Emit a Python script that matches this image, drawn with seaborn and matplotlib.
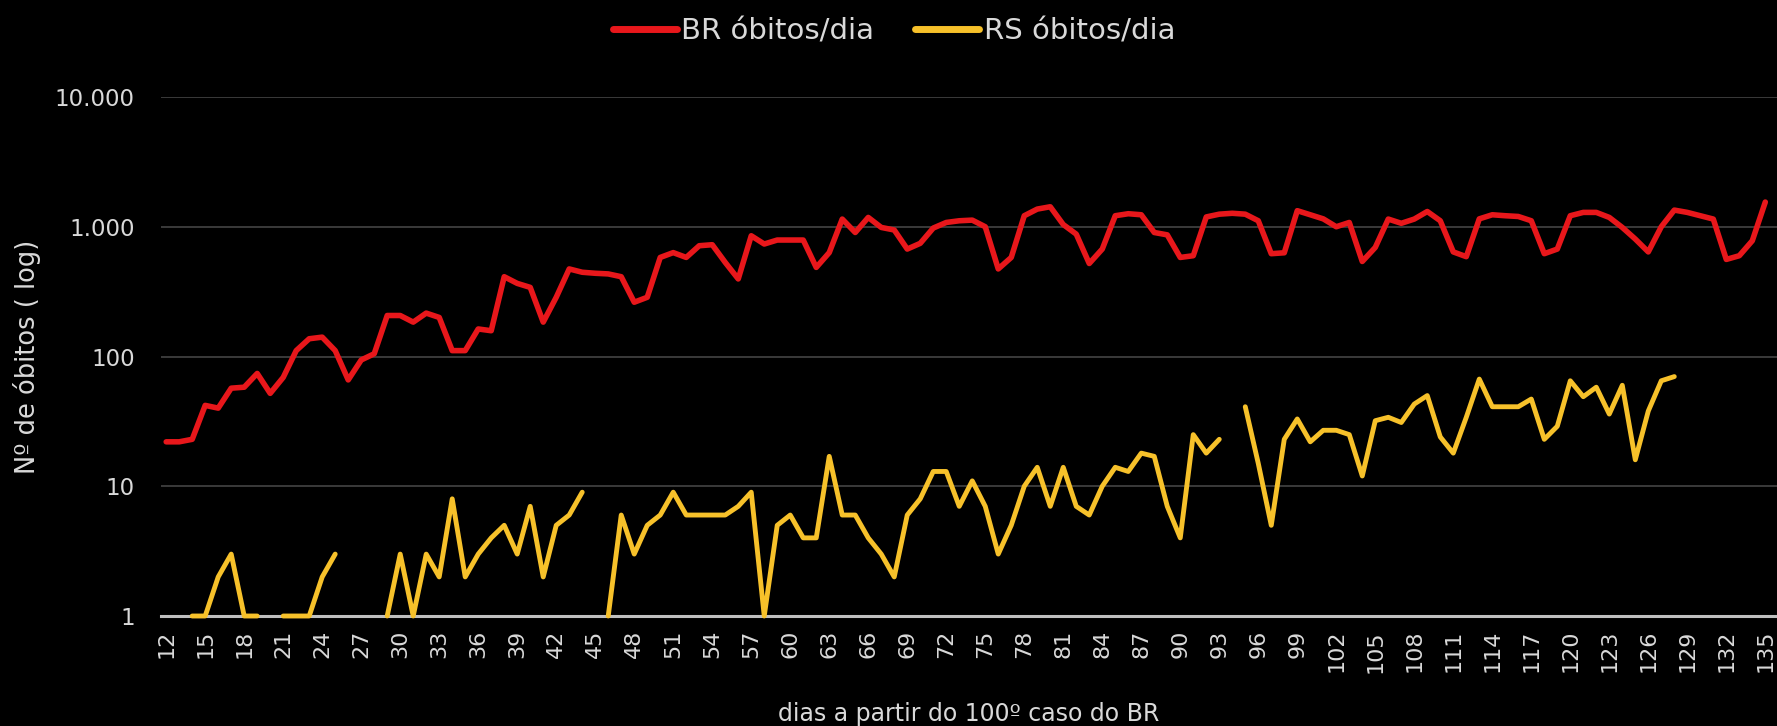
import numpy as np
import pandas as pd
import matplotlib
matplotlib.use("Agg")
import matplotlib.pyplot as plt
import seaborn as sns
from matplotlib.lines import Line2D
from matplotlib.ticker import NullLocator

nan = np.nan

# Days counted from Brazil's 100th confirmed case
days = list(range(12, 136))

# Daily deaths, Brazil
br_obitos = [
    22, 22, 23, 42, 40, 57, 58, 74, 52, 69,              # 12-21
    111, 137, 141, 111, 66, 94, 105, 207, 207, 184,      # 22-31
    216, 200, 111, 111, 163, 158, 412, 366, 341, 184,    # 32-41
    286, 473, 446, 438, 433, 412, 262, 286, 580, 632,    # 42-51
    580, 714, 727, 531, 396, 852, 736, 790, 790, 790,    # 52-61
    486, 632, 1146, 903, 1180, 988, 944, 673, 745, 977,  # 62-71
    1079, 1112, 1125, 1000, 473, 580, 1216, 1368, 1426, 1040,  # 72-81
    877, 521, 673, 1216, 1260, 1237, 903, 866, 580, 598,       # 82-91
    1190, 1250, 1270, 1250, 1112, 620, 630, 1330, 1237, 1150,  # 92-101
    1000, 1079, 540, 693, 1146, 1063, 1146, 1311, 1112, 640,   # 102-111
    588, 1150, 1237, 1216, 1200, 1112, 620, 673, 1216, 1290,   # 112-121
    1290, 1180, 988, 804, 640, 1000, 1344, 1290, 1216, 1146,   # 122-131
    560, 598, 780, 1550,                                       # 132-135
]

# Daily deaths, Rio Grande do Sul (days without deaths left blank)
rs_obitos = [
    nan, nan, 1, 1, 2, 3, 1, 1, nan, 1,                  # 12-21
    1, 1, 2, 3, nan, nan, nan, 1, 3, 1,                  # 22-31
    3, 2, 8, 2, 3, 4, 5, 3, 7, 2,                        # 32-41
    5, 6, 9, nan, 1, 6, 3, 5, 6, 9,                      # 42-51
    6, 6, 6, 6, 7, 9, 1, 5, 6, 4,                        # 52-61
    4, 17, 6, 6, 4, 3, 2, 6, 8, 13,                      # 62-71
    13, 7, 11, 7, 3, 5, 10, 14, 7, 14,                   # 72-81
    7, 6, 10, 14, 13, 18, 17, 7, 4, 25,                  # 82-91
    18, 23, nan, 41, 15, 5, 23, 33, 22, 27,              # 92-101
    27, 25, 12, 32, 34, 31, 43, 50, 24, 18,              # 102-111
    34, 67, 41, 41, 41, 47, 23, 29, 65, 49,              # 112-121
    58, 36, 60, 16, 38, 65, 70, nan, nan, nan,           # 122-131
    nan, nan, nan, nan,                                  # 132-135
]

series_labels = ["BR óbitos/dia", "RS óbitos/dia"]
y_ticks = [1, 10, 100, 1000, 10000]
y_tick_labels = ["1", "10", "100", "1.000", "10.000"]
x_ticks = list(range(12, 136, 3))

RED = "#E8171B"
GOLD = "#F7C12A"
TEXT = "#D9D9D9"
GRID = "#3A3A3A"

sns.set_style("dark", rc={
    "figure.facecolor": "black",
    "axes.facecolor": "black",
    "axes.edgecolor": "#BFBFBF",
    "grid.color": GRID,
})
plt.rcParams["font.family"] = ["DejaVu Sans"]

W, H = 1777, 726
fig = plt.figure(figsize=(W / 100, H / 100), dpi=100, facecolor="black")
ax = fig.add_axes([161 / W, 110 / H, (W - 161) / W, 519 / H])

br_df = pd.DataFrame({"dia": days, "obitos": br_obitos})
rs_df = pd.DataFrame({"dia": days, "obitos": rs_obitos})
# break the RS line at the blank days
rs_df["trecho"] = rs_df["obitos"].isna().cumsum()
rs_df = rs_df.dropna()

sns.lineplot(data=br_df, x="dia", y="obitos", color=RED, linewidth=4.0,
             solid_joinstyle="round", solid_capstyle="round", ax=ax, clip_on=False)
sns.lineplot(data=rs_df, x="dia", y="obitos", units="trecho", estimator=None,
             color=GOLD, linewidth=3.5, solid_joinstyle="round",
             solid_capstyle="round", ax=ax, clip_on=False)

ax.set_yscale("log")
ax.set_ylim(1, 10000)
ax.set_xlim(11.6, 135.9)
ax.set_yticks(y_ticks, y_tick_labels)
ax.yaxis.set_minor_locator(NullLocator())
ax.set_xticks(x_ticks, [str(d) for d in x_ticks], rotation=90)
ax.set_xlabel("")
ax.set_ylabel("")

ax.grid(axis="y", color=GRID, linewidth=1.4)
ax.grid(axis="x", visible=False)
for side in ("left", "right", "top"):
    ax.spines[side].set_visible(False)
ax.spines["bottom"].set_color("#BFBFBF")
ax.spines["bottom"].set_linewidth(2.2)
ax.spines["bottom"].set_zorder(1)

ax.tick_params(axis="y", length=0, labelsize=16.5, labelcolor=TEXT, pad=19)
ax.tick_params(axis="x", length=0, labelsize=16, labelcolor=TEXT, pad=10)

handles = [Line2D([0], [0], color=RED, linewidth=5),
           Line2D([0], [0], color=GOLD, linewidth=5)]
fig.legend(handles=handles, labels=series_labels, loc="center",
           bbox_to_anchor=(0.503, 0.957), ncol=2, frameon=False, fontsize=21,
           handlelength=2.2, handletextpad=0.15, columnspacing=1.4,
           labelcolor=TEXT)

fig.text(969 / W, 12 / H, "dias a partir do 100º caso do BR", ha="center",
         va="center", fontsize=17, color=TEXT)
fig.text(27 / W, 1 - 357 / H, "Nº de óbitos ( log)", ha="center", va="center",
         rotation=90, fontsize=18.5, color=TEXT)

fig.savefig("out.png", dpi=100, facecolor="black")
